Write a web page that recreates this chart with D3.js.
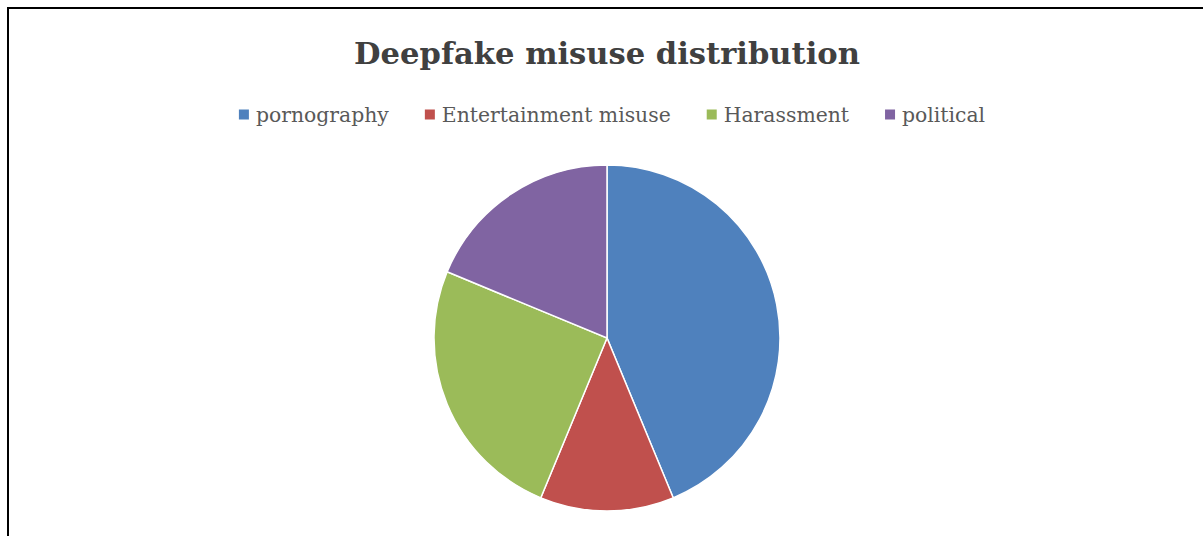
<!DOCTYPE html>
<html>
<head>
<meta charset="utf-8">
<script src="https://cdn.jsdelivr.net/npm/d3@7"></script>
<style>
  html, body { margin: 0; padding: 0; background: #fff; }
  svg { display: block; }
</style>
</head>
<body>
<svg id="chart" width="1203" height="536"></svg>
<script>
const title = "Deepfake misuse distribution";
const categories = ["pornography", "Entertainment misuse", "Harassment", "political"];
const values = [35, 10, 20, 15];
const colors = ["#4F81BD", "#C0504D", "#9BBB59", "#8064A2"];

const W = 1203, H = 536;
const svg = d3.select("#chart");
const fontFam = "'DejaVu Serif', 'Liberation Serif', serif";

// frame
svg.append("path")
  .attr("d", d3.line()([[8, H + 5], [8, 8], [W + 5, 8]]))
  .attr("fill", "none").attr("stroke", "#000").attr("stroke-width", 2);

// title
const t = svg.append("text")
  .attr("x", 607).attr("y", 64)
  .attr("text-anchor", "middle")
  .attr("font-family", fontFam)
  .attr("font-weight", "bold")
  .attr("font-size", 36)
  .attr("fill", "#404040")
  .text(title);
let tw = t.node().getComputedTextLength();
t.attr("font-size", 36 * 506 / tw);

// legend
const probe = svg.append("text").attr("font-family", fontFam).attr("font-size", 20).text(categories[0]);
const pw = probe.node().getComputedTextLength();
probe.remove();
const lfs = 20 * 133 / pw;

const lg = svg.append("g");
let x = 0;
categories.forEach((c, i) => {
  const g = lg.append("g");
  g.append("rect").attr("x", x).attr("y", -5).attr("width", 10).attr("height", 10).attr("fill", colors[i]);
  const tx = g.append("text").attr("x", x + 17).attr("y", 0).attr("dy", "0.35em")
    .attr("font-family", fontFam).attr("font-size", lfs).attr("fill", "#595959").text(c);
  const w = tx.node().getComputedTextLength();
  x += 17 + w + 36;
});
const totalW = x - 36;
lg.attr("transform", `translate(${612 - totalW / 2},114.5)`);

// pie
const pie = d3.pie().sort(null).value(d => d.v);
const arc = d3.arc().innerRadius(0).outerRadius(173);
const data = categories.map((c, i) => ({ c, v: values[i], col: colors[i] }));
svg.append("g").attr("transform", "translate(607,338)")
  .selectAll("path").data(pie(data)).join("path")
  .attr("d", arc)
  .attr("fill", d => d.data.col)
  .attr("stroke", "#fff").attr("stroke-width", 1.5);
</script>
</body>
</html>
